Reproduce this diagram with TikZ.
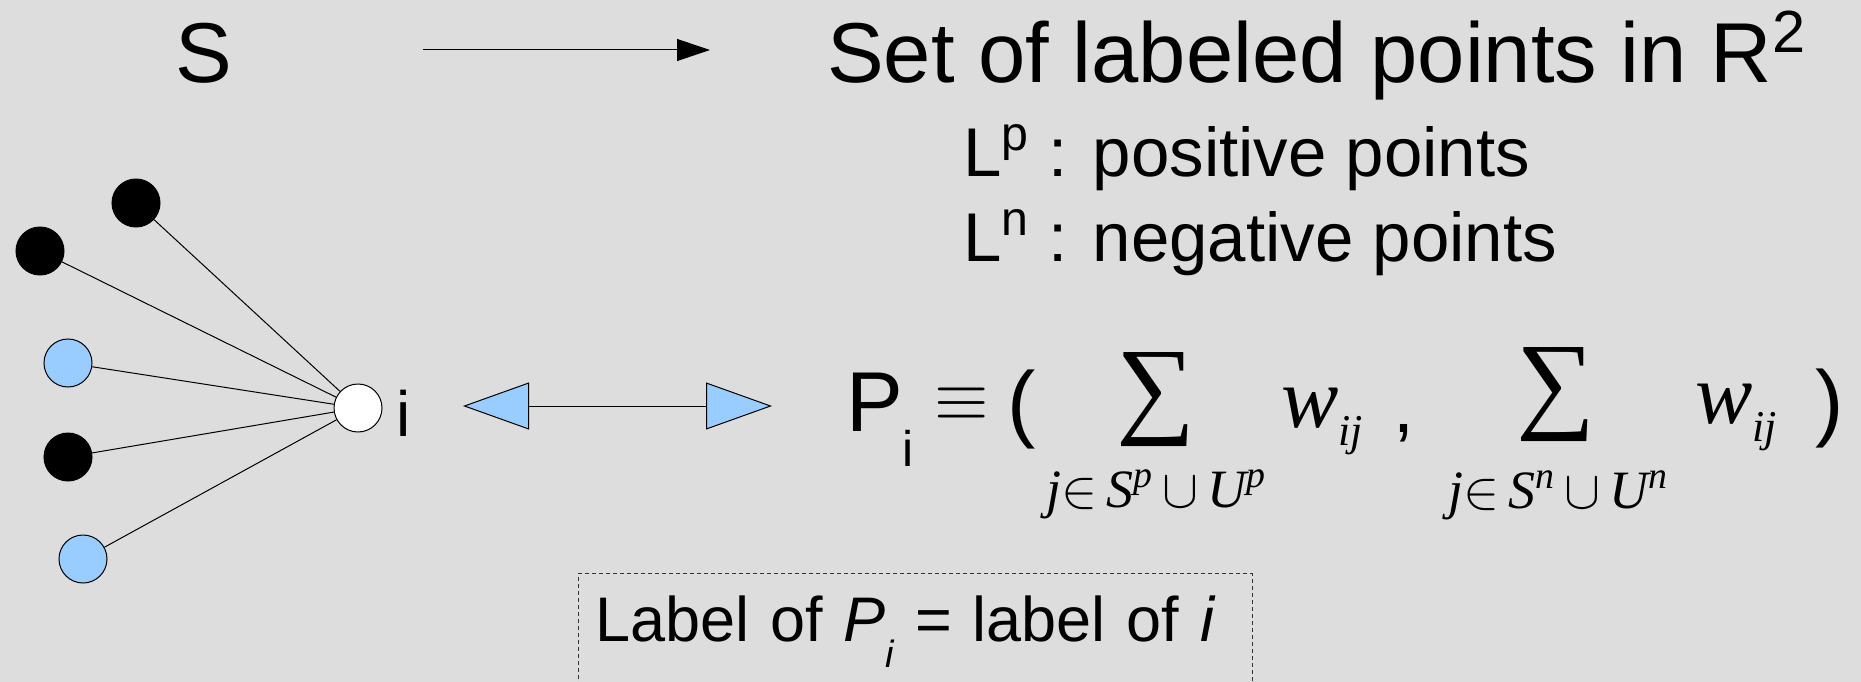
\documentclass[tikz,border=0pt]{standalone}
\usepackage{fix-cm}
\usepackage{fontspec}
\setmainfont{Liberation Sans}
\newfontfamily\tmsfont{Liberation Serif}
\usepackage{graphicx}
\usetikzlibrary{arrows.meta,positioning}

\definecolor{bggray}{RGB}{221,221,221}
\definecolor{ptblue}{RGB}{153,204,255}

\newcommand{\fsz}[1]{\fontsize{#1}{#1}\selectfont}
\newcommand{\wij}{{\tmsfont\itshape w\raisebox{-18pt}{\fsz{44}ij}}}
\newcommand{\limset}[1]{{\tmsfont\itshape j}$\in\,${\tmsfont\itshape S\textsuperscript{#1}}$\,\cup\,${\tmsfont\itshape U\textsuperscript{#1}}}
\newcommand{\bigsum}{\resizebox*{79pt}{94pt}{\tmsfont ∑}}

\begin{document}
\begin{tikzpicture}[
    x=1pt, y=-1pt,
    txt/.style={inner sep=0, anchor=base west},
    bigtext/.style={txt, font=\fsz{85}},
    medtext/.style={txt, font=\fsz{69}},
    formtext/.style={txt, font=\fsz{85}},
    wtext/.style={txt, font=\fsz{86}},
    limtext/.style={inner sep=0, anchor=base, font=\fsz{54}},
    sumsign/.style={inner sep=0},
    dot/.style={circle, draw, line width=1pt, minimum size=48pt, inner sep=0},
    negdot/.style={dot, fill=black},
    posdot/.style={dot, fill=ptblue},
    link/.style={line width=1pt},
    maparrow/.style={line width=1pt, -{Triangle[length=33pt,width=22pt]}},
    corarrow/.style={line width=1pt, {Triangle[length=66pt,width=47pt,fill=ptblue]}-{Triangle[length=66pt,width=47pt,fill=ptblue]}},
    labelbox/.style={draw=black!80, line width=1pt, dash pattern=on 4pt off 3pt, font=\fsz{63}, text width=640pt, align=left, inner xsep=17pt, inner ysep=20pt, text height=48pt, text depth=80pt}
]

% Page
\fill[bggray] (0,0) rectangle (1861,682);
\useasboundingbox (0,0) rectangle (1861,682);

% Mapping S to the labeled points
\node[bigtext] (set) at (175,83) {S};
\node[bigtext] (pts) at (827,83) {Set of labeled points in R\textsuperscript{2}};
\coordinate (mapfrom) at (423,50);
\coordinate (mapto) at (710,50);
\draw[maparrow] (mapfrom) -- (mapto);

\node[medtext] (lpos) at (963,176) {L\textsuperscript{p} : positive points};
\node[medtext] (lneg) at (963,261) {L\textsuperscript{n} : negative points};

% Neighbours of i
\node[negdot] (n1) at (136,203) {};
\node[negdot] (n2) at (40,251) {};
\node[posdot] (n3) at (68,363) {};
\node[negdot] (n4) at (68,457) {};
\node[posdot] (n5) at (83,559) {};
\node[dot, fill=white] (ni) at (358,408) {};
\node[medtext, font=\fsz{64}] (ilabel) at (396,436) {i};
\foreach \n in {n1,n2,n3,n4,n5}
    \draw[link] (\n) -- (ni);

% i <-> P_i
\coordinate (corl) at (463,406);
\coordinate (corr) at (772,406);
\draw[corarrow] (corl) -- (corr);

% Definition of P_i
\node[formtext] (pi) at (846,431) {P\raisebox{-35pt}{\fsz{50}i}};
\node[formtext, font=\fsz{70}, anchor=base] (equiv) at (962,420) {$\equiv$};
\node[formtext] (lpar) at (1007,431) {(};
\node[sumsign] (sum1) at (1156,400) {\bigsum};
\node[limtext] (lim1) at (1156,507) {\limset{p}};
\node[wtext] (w1) at (1281,427) {\wij};
\node[formtext, font=\fsz{75}] (comma) at (1393,432) {,};
\node[sumsign] (sum2) at (1556,395) {\bigsum};
\node[limtext] (lim2) at (1558,508) {\limset{n}};
\node[wtext] (w2) at (1695,423) {\wij};
\node[formtext] (rpar) at (1815,430) {)};

% Label rule
\node[labelbox, anchor=north] (rule) at (915,573) {Label of \textit{P}\raisebox{-26pt}{\fsz{38}\itshape i} = label of \textit{i}};

\end{tikzpicture}
\end{document}
